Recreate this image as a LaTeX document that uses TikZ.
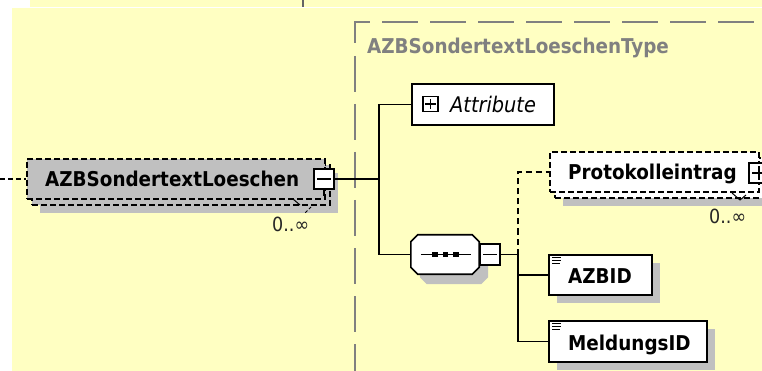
\documentclass[tikz,border=0pt]{standalone}
\usepackage{fontspec}
\setmainfont{DejaVu Sans Condensed}
\definecolor{bgy}{RGB}{255,255,194}
\definecolor{shd}{RGB}{192,192,192}
\definecolor{frm}{RGB}{128,128,128}
\definecolor{stripline}{RGB}{100,100,100}
\newcommand\octpath[1]{([xshift=7pt]#1.north west) -- ([xshift=-7pt]#1.north east) -- ([yshift=-7pt]#1.north east) -- ([yshift=7pt]#1.south east) -- ([xshift=-7pt]#1.south east) -- ([xshift=7pt]#1.south west) -- ([yshift=7pt]#1.south west) -- ([yshift=-7pt]#1.north west) -- cycle}
\begin{document}
\begin{tikzpicture}[x=1pt,y=-1pt,line join=miter,
  txt/.style={font=\fontsize{20.4}{22}\selectfont\bfseries, inner sep=0pt, anchor=base west, text=black},
  occ/.style={font=\fontsize{19.5}{22}\selectfont, inner sep=0pt, anchor=base west, text=black!85},
  bx/.style={rectangle, draw=black, line width=1.6pt, fill=white, inner sep=0pt},
  dbx/.style={bx, dash pattern=on 6pt off 3pt},
  shbox/.style={rectangle, fill=shd, draw=none, inner sep=0pt},
  btn/.style={rectangle, draw=black, line width=1.4pt, fill=white, inner sep=0pt, minimum width=#1, minimum height=#1},
  conn/.style={line width=1.6pt, draw=black},
  dconn/.style={conn, dash pattern=on 6pt off 4pt},
  ghost/.style={rectangle, draw=none, inner sep=0pt}
]
\useasboundingbox (0,0) rectangle (762,371);
\clip (0,0) rectangle (762,371);
% background
\fill[white] (0,0) rectangle (762,371);
\fill[bgy] (30,0) rectangle (762,6.7);
\fill[bgy] (12,8) rectangle (762,371);
\draw[stripline, line width=1.6pt] (303,0) -- (303,6.7);
% type frame
\draw[frm, line width=2.2pt, dash pattern=on 36pt off 12pt] (355,43) -- (355,22) -- (800,22);
\draw[frm, line width=2.2pt, dash pattern=on 36pt off 12pt] (355,56) -- (355,400);
\node[txt, text=frm] (typelbl) at (367,54) {AZBSondertextLoeschenType};

% main element
\node[shbox, minimum width=298pt, minimum height=40pt] (mainsh) at (189,193) {};
\node[dbx, fill=shd, minimum width=298pt, minimum height=40pt] (mainbk) at (181,185) {};
\node[dbx, fill=shd, minimum width=298pt, minimum height=40pt] (main) at (176,179) {};
\node[txt] (maintxt) at (45,186.5) {AZBSondertextLoeschen};
\node[btn=20pt] (mainbtn) at (324,179) {};
\draw[line width=1.4pt] ([xshift=4pt]mainbtn.west) -- ([xshift=-4pt]mainbtn.east);
\draw[line width=1.2pt] (mainbtn.south) -- ++(0,6);
\draw[line width=1pt] (293,199) -- (300,205);
\draw[line width=1pt, dash pattern=on 3pt off 2pt] (311,207) -- (305,213);
\node[occ] (mainocc) at (272,232) {0..∞};

% attributes
\node[bx, minimum width=142pt, minimum height=41pt] (attr) at (483,104.5) {};
\node[btn=15pt, line width=1.3pt] (attrbtn) at (430.5,104) {};
\draw[line width=1.3pt] ([xshift=3pt]attrbtn.west) -- ([xshift=-3pt]attrbtn.east);
\draw[line width=1.3pt] ([yshift=3pt]attrbtn.south) -- ([yshift=-3pt]attrbtn.north);
\node[txt, font=\fontsize{21.5}{22}\selectfont\itshape] (attrtxt) at (450,112.5) {Attribute};

% sequence compositor
\node[ghost, minimum width=68pt, minimum height=39pt] (seqsh) at (454,264.5) {};
\node[ghost, minimum width=68pt, minimum height=39pt] (seq) at (445,254.5) {};
\fill[shd] \octpath{seqsh};
\draw[line width=1.6pt, fill=white] \octpath{seq};
\draw[line width=1.6pt] ([xshift=10pt]seq.west) -- ([xshift=-8pt]seq.east);
\foreach \cx in {435,445.5,456} \fill (\cx-2.8,251.7) rectangle (\cx+2.8,257.3);
\node[btn=20pt, minimum height=21pt] (seqbtn) at (490,254.5) {};
\draw[line width=1.4pt] ([xshift=4pt]seqbtn.west) -- ([xshift=-4pt]seqbtn.east);

% Protokolleintrag
\node[shbox, minimum width=209pt, minimum height=40pt] (prosh) at (667.5,186) {};
\node[dbx, minimum width=209pt, minimum height=40pt] (probk) at (659.5,178) {};
\node[dbx, minimum width=209pt, minimum height=40pt] (pro) at (654.5,172) {};
\node[txt] (protxt) at (568,180) {Protokolleintrag};
\node[btn=20pt] (probtn) at (759,173) {};
\draw[line width=1.4pt] ([xshift=4pt]probtn.west) -- ([xshift=-4pt]probtn.east);
\draw[line width=1.4pt] ([yshift=4pt]probtn.south) -- ([yshift=-4pt]probtn.north);
\draw[line width=1pt] (732,193) -- (740,200) -- (746,195);
\node[occ] (proocc) at (709,223) {0..∞};

% AZBID
\node[shbox, minimum width=103pt, minimum height=40pt] (azbsh) at (608.5,283) {};
\node[bx, minimum width=103pt, minimum height=40pt] (azbid) at (600.5,275) {};
\node[txt] (azbtxt) at (568,283) {AZBID};
\foreach \dy/\len in {3.5/9,6.5/9,9.5/8} \draw[line width=1.2pt] ([xshift=4pt,yshift=-\dy pt]azbid.north west) -- ++(\len,0);

% MeldungsID
\node[shbox, minimum width=158pt, minimum height=41pt] (melsh) at (636,349.5) {};
\node[bx, minimum width=158pt, minimum height=41pt] (meld) at (628,341.5) {};
\node[txt] (meltxt) at (568,350) {MeldungsID};
\foreach \dy/\len in {3.5/9,6.5/9,9.5/8} \draw[line width=1.2pt] ([xshift=4pt,yshift=-\dy pt]meld.north west) -- ++(\len,0);

% connectors
\coordinate (inlet) at (0,179);
\coordinate (t1) at (379,179);
\coordinate (t2) at (518,254.5);
\draw[conn, dash pattern=on 5pt off 3pt] (inlet) -- (main.west);
\draw[conn] (mainbtn.east) -- (t1);
\draw[conn] (attr.west) -| (t1) |- (seq.west);
\draw[conn] (seqbtn.east) -- (t2);
\draw[dconn] (t2) |- (pro.west);
\draw[conn] (t2) |- (azbid.west);
\draw[conn] (t2) |- (meld.west);
\end{tikzpicture}
\end{document}
